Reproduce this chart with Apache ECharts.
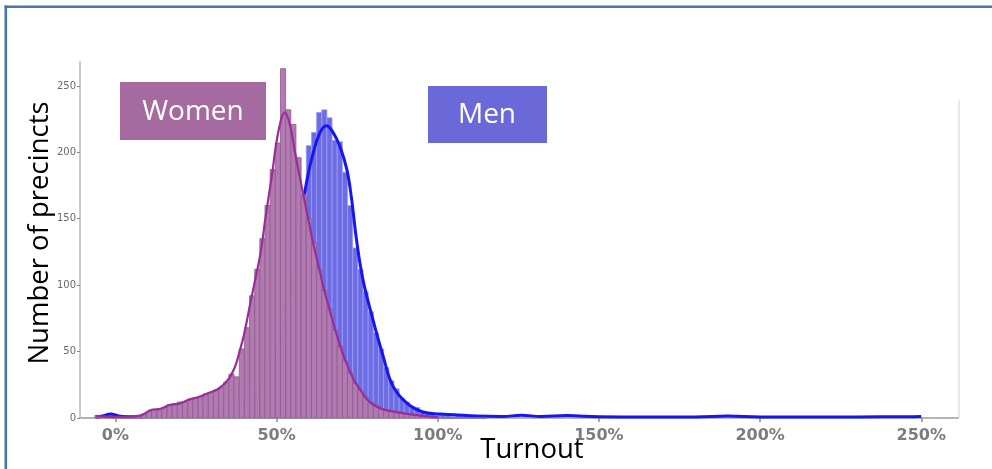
<!DOCTYPE html>
<html>
<head>
<meta charset="utf-8">
<script src="https://cdn.jsdelivr.net/npm/echarts@6/dist/echarts.min.js"></script>
<style>
  html, body { margin: 0; padding: 0; background: #ffffff; overflow: hidden; }
  #c { width: 992px; height: 469px; }
</style>
</head>
<body>
<div id="c"></div>
<script>
// ---------------- data ----------------
const BIN_WIDTH = 1.6; // turnout %, width of each histogram bin
const binCenters = [
  -5.6, -4.0, -2.4, -0.8, 0.8, 2.4, 4.0, 5.6, 7.2, 8.8,
  10.4, 12.0, 13.6, 15.2, 16.8, 18.4, 20.0, 21.6, 23.2, 24.8,
  26.4, 28.0, 29.6, 31.2, 32.8, 34.4, 36.0, 37.6, 39.2, 40.8,
  42.4, 44.0, 45.6, 47.2, 48.8, 50.4, 52.0, 53.6, 55.2, 56.8,
  58.4, 60.0, 61.6, 63.2, 64.8, 66.4, 68.0, 69.6, 71.2, 72.8,
  74.4, 76.0, 77.6, 79.2, 80.8, 82.4, 84.0, 85.6, 87.2, 88.8,
  90.4, 92.0, 93.6, 95.2, 96.8, 98.4, 100.0, 101.6, 103.2, 104.8,
  106.4, 108.0, 109.6, 111.2, 112.8, 114.4
];
const womenCounts = [
  2, 1, 1, 0, 1, 0, 1, 1, 2, 3,
  5, 6, 6, 8, 10, 10, 12, 12, 14, 15,
  16, 18, 19, 21, 23, 27, 33, 31, 52, 68,
  92, 112, 135, 160, 187, 207, 263, 232, 221, 196,
  168, 150, 132, 112, 96, 82, 66, 54, 43, 34,
  26, 21, 16, 12, 10, 7, 6, 5, 5, 4,
  3, 3, 2, 1, 1, 0, 0, 0, 0, 0,
  0, 0, 0, 0, 0, 0
];
const menCounts = [
  0, 1, 3, 2, 1, 1, 0, 1, 1, 1,
  1, 2, 2, 2, 2, 3, 3, 3, 4, 4,
  4, 5, 5, 6, 7, 8, 9, 10, 12, 14,
  17, 21, 25, 32, 40, 52, 66, 85, 108, 135,
  165, 205, 215, 230, 232, 226, 209, 208, 185, 160,
  128, 112, 95, 80, 64, 52, 38, 28, 22, 15,
  12, 9, 8, 5, 4, 3, 2, 2, 2, 1,
  2, 1, 1, 1, 1, 1
];
const womenKdeX = [-6, -3, 0, 4, 8, 11, 14, 17, 20, 23, 26, 29, 32, 35, 37, 38.5, 40, 41.8, 43, 45,
  46.5, 48.5, 50.5, 52.6, 54.2, 55.7, 57.3, 59.8, 61.3, 62.9, 64.4, 66.6, 68, 70.6, 73.7, 76.8, 78.1, 80, 83, 86,
  88.3, 92.3, 96, 100];
const womenKdeY = [1.5, 1, 0.8, 1, 2, 6, 7, 10, 11, 14, 16, 19, 22, 29, 38, 50, 64, 86, 100, 124,
  150, 182, 215, 230, 220, 200, 180, 150, 132, 116, 100, 80, 68, 48, 30, 18, 14, 10, 6.5, 5,
  4, 2.5, 1.5, 0.5];
const menKdeX = [-6, -4, -1.5, 1, 4, 8, 14, 20, 28, 36, 42, 46, 49, 51.5, 53.5, 55.5, 57.5, 59.4, 61.3, 63.5,
  65.5, 67.5, 69.7, 71.8, 73.2, 74.8, 76.8, 79.9, 83, 86.1, 90.5, 95.4, 100.7, 105, 112, 120, 126, 132, 140, 150,
  165, 180, 190, 200, 215, 230, 245, 250];
const menKdeY = [0.5, 1.5, 3, 1.5, 1, 1, 2, 3, 4, 8, 14, 25, 40, 62, 88, 118, 150, 179, 199, 215,
  220, 215, 204, 187, 166, 134, 104, 74, 47, 24, 11, 4.5, 3, 2.5, 1.5, 1.2, 2, 1.2, 1.8, 1,
  0.8, 0.8, 1.5, 0.8, 0.8, 0.8, 1, 1.2];
const xTickValues = [0, 50, 100, 150, 200, 250];
const yTickValues = [0, 50, 100, 150, 200, 250];
const xTitle = 'Turnout';
const yTitle = 'Number of precincts';
const womenLabel = 'Women';
const menLabel = 'Men';

// ---------------- chart ----------------
const zip = (a, b) => a.map((v, i) => [v, b[i]]);
const histRender = (fill, stroke) => (params, api) => {
  const x = api.value(0), y = api.value(1);
  const p0 = api.coord([x - BIN_WIDTH / 2, y]);
  const p1 = api.coord([x + BIN_WIDTH / 2, 0]);
  return {
    type: 'rect',
    shape: { x: p0[0], y: p0[1], width: p1[0] - p0[0], height: p1[1] - p0[1] },
    style: { fill: fill, stroke: stroke, lineWidth: 0.8 }
  };
};

const chart = echarts.init(document.getElementById('c'), null, { renderer: 'canvas' });
chart.setOption({
  animation: false,
  backgroundColor: '#ffffff',
  grid: { left: 80, right: 34, top: 62, bottom: 51, outerBoundsMode: 'none' },
  xAxis: {
    type: 'value', min: -11, max: 261.4,
    axisLine: { show: true, onZero: false, lineStyle: { color: '#b4b4b4', width: 2 } },
    axisTick: { show: true, length: 4, customValues: xTickValues, lineStyle: { color: '#8a8a8a', width: 1.5 } },
    axisLabel: { customValues: xTickValues, formatter: v => v + '%', fontFamily: 'DejaVu Sans', fontWeight: 'bold',
      fontSize: 16, color: '#7c7c7c', margin: 10 },
    splitLine: { show: false }
  },
  yAxis: {
    type: 'value', min: 0, max: 268,
    axisLine: { show: true, onZero: false, lineStyle: { color: '#cacaca', width: 2 } },
    axisTick: { show: true, length: 3, customValues: yTickValues, lineStyle: { color: '#8a8a8a' } },
    axisLabel: { customValues: yTickValues, fontFamily: 'DejaVu Sans', fontSize: 10, color: '#6a6a6a', margin: 4 },
    splitLine: { show: false }
  },
  series: [
    { type: 'custom', name: 'Men', z: 1, data: zip(binCenters, menCounts), encode: { x: 0, y: 1 },
      renderItem: histRender('#6c6ce4', '#9c9cf5') },
    { type: 'line', name: 'Men KDE', z: 2, data: zip(menKdeX, menKdeY), smooth: 0.4, symbol: 'none',
      lineStyle: { color: '#1616f0', width: 3 } },
    { type: 'custom', name: 'Women', z: 3, data: zip(binCenters, womenCounts), encode: { x: 0, y: 1 },
      renderItem: histRender('#b27ab0', '#8a5e8c') },
    { type: 'line', name: 'Women KDE', z: 4, data: zip(womenKdeX, womenKdeY), smooth: 0.4, symbol: 'none',
      lineStyle: { color: '#9a2e98', width: 2.2 } }
  ],
  graphic: [
    { type: 'line', z: 100, shape: { x1: 4.5, y1: 6.7, x2: 1000, y2: 6.7 },
      style: { stroke: '#4a76a8', lineWidth: 2.6 } },
    { type: 'line', z: 100, shape: { x1: 5.8, y1: 5.4, x2: 5.8, y2: 480 },
      style: { stroke: '#4a76a8', lineWidth: 2.6 } },
    { type: 'line', z: 0, shape: { x1: 959, y1: 100, x2: 959, y2: 418 },
      style: { stroke: '#e2e2e2', lineWidth: 1.5 } },
    { type: 'rect', z: 50, shape: { x: 120, y: 82, width: 146, height: 58 }, style: { fill: '#a56aa0' } },
    { type: 'text', z: 51, x: 193, y: 112, style: { text: womenLabel, align: 'center', verticalAlign: 'middle',
      font: '28px "Open Sans"', fill: '#ffffff' } },
    { type: 'rect', z: 50, shape: { x: 428, y: 86, width: 119, height: 57 }, style: { fill: '#6a69d7' } },
    { type: 'text', z: 51, x: 487, y: 115, style: { text: menLabel, align: 'center', verticalAlign: 'middle',
      font: '28px "Open Sans"', fill: '#ffffff' } },
    { type: 'text', z: 51, x: 532, y: 450, style: { text: xTitle, align: 'center', verticalAlign: 'middle',
      font: '27.5px "Open Sans"', fill: '#000000' } },
    { type: 'text', z: 51, x: 40, y: 233, rotation: Math.PI / 2, style: { text: yTitle, align: 'center',
      verticalAlign: 'middle', font: '27.5px "Open Sans"', fill: '#000000' } }
  ]
});
</script>
</body>
</html>
